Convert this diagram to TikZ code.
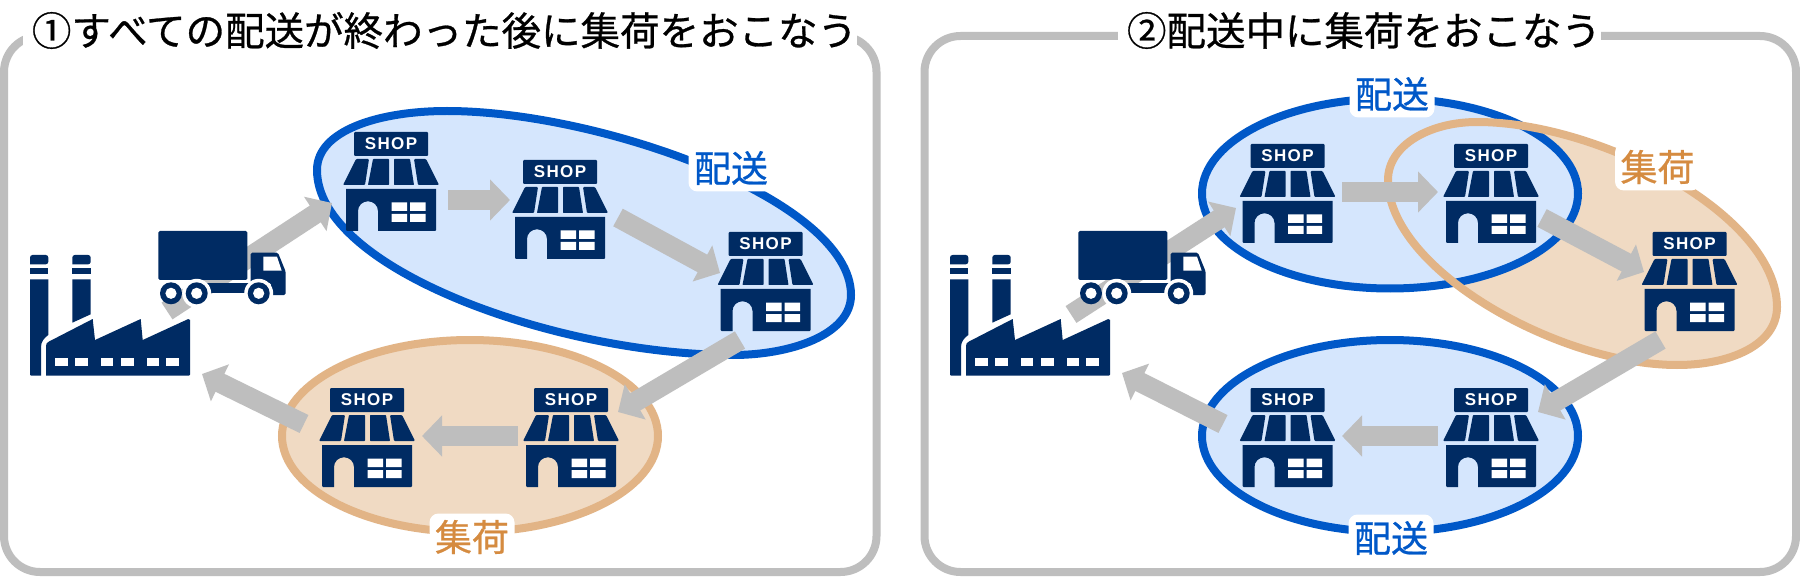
\documentclass[tikz,border=0pt]{standalone}
\usepackage{fontspec}
\usetikzlibrary{arrows.meta}
\newfontfamily\jpfont[FakeBold=0.7]{Noto Sans CJK JP}
\newfontfamily\shopfont[LetterSpace=8,Ligatures=NoCommon]{Liberation Sans Bold}
\definecolor{navy}{HTML}{002B63}
\definecolor{panelgray}{HTML}{BEBEBE}
\definecolor{delblue}{HTML}{0058C8}
\definecolor{delfill}{HTML}{D5E6FD}
\definecolor{pickline}{HTML}{E2B486}
\definecolor{pickfill}{HTML}{F0DAC3}
\definecolor{picktext}{HTML}{D58B40}
\tikzset{
  panel/.style={draw=panelgray,line width=8pt,rounded corners=36pt},
  titletext/.style={fill=white,inner sep=0pt,minimum height=44pt,text=black,font=\jpfont\fontsize{39.5}{39.5}\selectfont},
  halo/.style={fill=white,rounded corners=9pt,inner sep=0pt,minimum width=85pt,minimum height=47pt,font=\jpfont\fontsize{37}{37}\selectfont},
  blue label/.style={halo,text=delblue},
  orange label/.style={halo,text=picktext},
  blue area/.style={draw=delblue,fill=delfill,line width=8pt},
  orange area/.style={draw=pickline,fill=pickfill,line width=8pt},
  flow/.style={draw=panelgray,line width=20pt,-{Triangle[width=40pt,length=20pt]}},
  shoplabel/.style={text=white,inner sep=0pt,font=\shopfont\fontsize{17}{17}\selectfont},
  pics/shop/.style={code={
    \fill[navy,rounded corners=1pt] (-37,0) rectangle (37,24);
    \node[shoplabel] (-label) at (0,12) {SHOP};
    \fill[navy,rounded corners=1pt] (-48,53) -- (-26,53) -- (-22,27) -- (-35,27) -- cycle;
    \fill[navy,rounded corners=.6pt] (-23,53) -- (-2,53) -- (-2,27) -- (-18,27) -- cycle;
    \fill[navy,rounded corners=.6pt] (3,53) -- (23,53) -- (19,27) -- (3,27) -- cycle;
    \fill[navy,rounded corners=1pt] (27,53) -- (48,53) -- (35,27) -- (23,27) -- cycle;
    \fill[navy] (-45,57) -- (45,57) -- (45,98) -- (44,99) -- (-13,99) -- (-13,79)
      .. controls (-13,73.5) and (-17.5,69.3) .. (-23,69.3)
      .. controls (-28.5,69.3) and (-33,73.5) .. (-33,79) -- (-33,99) -- (-44,99) -- (-45,98) -- cycle;
    \fill[white] (0.7,70.5) rectangle (16,79) (19,70.5) rectangle (34.7,79)
      (0.7,82) rectangle (16,90) (19,82) rectangle (34.7,90);
  }},
  pics/truck/.style={code={
    \fill[navy,rounded corners=1.5pt] (158.3,231) rectangle (247.3,280);
    \fill[navy,rounded corners=1.5pt] (250.7,252.7) -- (278,252.7) -- (285.7,271.7) -- (285.7,295) -- (271,295) -- (271,283) -- (250.7,283) -- cycle;
    \fill[navy] (205,283.3) rectangle (250,292.7);
    \fill[white] (196.7,293.3) circle[radius=14.5] (258.7,293.3) circle[radius=14.5];
    \fill[navy] (171,293.3) circle[radius=11];
    \fill[white] (171,293.3) circle[radius=5.6];
    \fill[navy] (196.7,293.3) circle[radius=11] (258.7,293.3) circle[radius=11];
    \fill[white] (196.7,293.3) circle[radius=5.6] (258.7,293.3) circle[radius=5.6];
    \fill[white] (263.3,256.7) -- (277,256.7) -- (281.7,270.7) -- (263.3,270.7) -- cycle;
  }},
  pics/factory/.style={code={
    \foreach \xa/\xb in {30/48.3,72.3/90.7}{
      \fill[navy,rounded corners=2.5pt] (\xa,264.3) -- (\xa,255) -- (\xb,255) -- (\xb,264.3) [sharp corners] -- cycle;
      \fill[navy] (\xa,268.3) rectangle (\xb,274);
    }
    \fill[navy] (30,279.3) -- (48.3,279.3) -- (48.3,335) .. controls (44,338) and (41,342) .. (41,347) -- (41,375.7) -- (31,375.7) -- (30,374.7) -- cycle;
    \fill[navy] (72.3,279.3) -- (90.7,279.3) -- (90.7,314.3) -- (72.3,322.7) -- cycle;
    \fill[navy] (46,375.7) -- (46,346) .. controls (46,343.5) and (47,342.5) .. (49,341.5) -- (92.7,319) -- (95,340) -- (140.7,319) -- (142.7,340) -- (188.3,319) -- (190,320) -- (190,374.5) -- (189,375.7) -- cycle;
    \foreach \xa/\xb in {55/67.7,75/88,100.7/113.3,120.7/133.7,146.7/159.3,166.3/179.3}{
      \fill[white] (\xa,358.3) rectangle (\xb,365.7);
    }
  }}
}
\begin{document}
\begin{tikzpicture}[x=1pt,y=-1pt]
\useasboundingbox (0,0) rectangle (1800,580);
\fill[white] (0,0) rectangle (1800,580);
% panels
\draw[panel] (4,36) rectangle (876.5,572);
\draw[panel] (924.5,36) rectangle (1796,572);
\node[titletext,minimum width=830pt] (t1) at (440,30.5) {\hspace*{9pt}①すべての配送が終わった後に集荷をおこなう};
\node[titletext,minimum width=483pt] (t2) at (1359.5,30.5) {\hspace*{9pt}②配送中に集荷をおこなう};
% left areas
\draw[orange area] (470,436) circle[x radius=188,y radius=96];
\draw[blue area] (317,170) .. controls (317,130) and (380,111) .. (447,111)
  .. controls (600,111) and (851,200) .. (851,295)
  .. controls (851,335) and (790,355) .. (733,355)
  .. controls (560,355) and (317,270) .. (317,170) -- cycle;
% right areas
\fill[pickfill] (1388,180) .. controls (1388,145) and (1430,122) .. (1477,122)
  .. controls (1600,122) and (1777,215) .. (1777,307)
  .. controls (1777,345) and (1730,365) .. (1677,365)
  .. controls (1560,365) and (1388,270) .. (1388,180) -- cycle;
\draw[blue area] (1390,193.5) circle[x radius=188,y radius=95];
\draw[pickline,line width=8pt] (1388,180) .. controls (1388,145) and (1430,122) .. (1477,122)
  .. controls (1600,122) and (1777,215) .. (1777,307)
  .. controls (1777,345) and (1730,365) .. (1677,365)
  .. controls (1560,365) and (1388,270) .. (1388,180) -- cycle;
\draw[blue area] (1390,436) circle[x radius=188,y radius=96];
% connector ends
\coordinate (a1s) at (167,311); \coordinate (a1e) at (332,203);
\coordinate (a2s) at (448,200); \coordinate (a2e) at (510,200);
\coordinate (a3s) at (618,217.5); \coordinate (a3e) at (720,273);
\coordinate (a4s) at (740,340); \coordinate (a4e) at (618,412);
\coordinate (a5s) at (518,436); \coordinate (a5e) at (422,436);
\coordinate (a6s) at (304,424); \coordinate (a6e) at (202,374);
\coordinate (b1s) at (1071,314.5); \coordinate (b1e) at (1236,208);
\coordinate (b2s) at (1342,192); \coordinate (b2e) at (1438,192);
\coordinate (b3s) at (1542,218); \coordinate (b3e) at (1644,272);
\coordinate (b4s) at (1660.5,340); \coordinate (b4e) at (1538,412);
\coordinate (b5s) at (1438,436); \coordinate (b5e) at (1342,436);
\coordinate (b6s) at (1223,424); \coordinate (b6e) at (1122,373);
\foreach \p in {a1,a2,a3,a4,a5,a6,b1,b2,b3,b4,b5,b6}{
  \draw[flow] (\p s) -- (\p e);
}
% shops
\pic (s1) at (391,132) {shop};
\pic (s2) at (560,160) {shop};
\pic (s3) at (765.5,232) {shop};
\pic (s4) at (571,388) {shop};
\pic (s5) at (367,388) {shop};
\pic (s6) at (1287.5,144) {shop};
\pic (s7) at (1491,144) {shop};
\pic (s8) at (1689.5,232) {shop};
\pic (s9) at (1491,388) {shop};
\pic (s10) at (1287.5,388) {shop};
% truck, factory
\pic (tr1) at (0,0) {truck};
\pic (tr2) at (920,0) {truck};
\pic (fa1) at (0,0) {factory};
\pic (fa2) at (920,0) {factory};
% labels
\node[blue label] (l1) at (731,168) {配送};
\node[orange label] (l2) at (472,537) {集荷};
\node[blue label] (l3) at (1392,94) {配送};
\node[orange label] (l4) at (1657.5,167) {集荷};
\node[blue label] (l5) at (1391,538) {配送};
\end{tikzpicture}
\end{document}
